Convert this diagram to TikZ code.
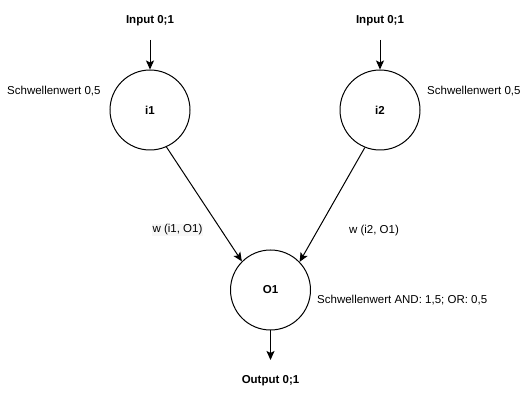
\documentclass[tikz,border=0pt]{standalone}
\usepackage{fontspec}
\setmainfont{Liberation Sans}
\usetikzlibrary{arrows.meta}
\begin{document}
\begin{tikzpicture}[x=1pt,y=-1pt,
  neuron/.style={draw,circle,line width=1pt,minimum size=80pt,inner sep=0pt,font=\fontsize{11.5}{13}\selectfont\bfseries},
  lbl/.style={inner sep=1pt,font=\fontsize{11.5}{13}\selectfont},
  blbl/.style={inner sep=1pt,font=\fontsize{11.5}{13}\selectfont\bfseries},
  wlbl/.style={lbl,fill=black!3},
  conn/.style={line width=1pt,-{Stealth[length=9pt,width=8pt,inset=2pt]}}]
\useasboundingbox (0,0) rectangle (531,401);
\node[neuron] (i1) at (150,110) {i1};
\node[neuron] (i2) at (380,110) {i2};
\node[neuron] (o1) at (270.5,290) {O1};
\node[blbl] (in1) at (150,21) {Input 0;1};
\node[blbl] (in2) at (380,21) {Input 0;1};
\node[blbl] (out) at (270.5,381) {Output 0;1};
\coordinate (a1) at (150,40);
\coordinate (a2) at (380,40);
\coordinate (a3) at (270.5,360);
\node[lbl,anchor=west] (s1) at (6,91) {Schwellenwert 0,5};
\node[lbl,anchor=west] (s2) at (426,91) {Schwellenwert 0,5};
\node[lbl,anchor=west] (s3) at (316,300) {Schwellenwert AND: 1,5; OR: 0,5};
\node[wlbl] (w1) at (177.5,230) {w (i1, O1)};
\node[lbl] (w2) at (374,231) {w (i2, O1)};
\draw[conn] (a1) -- (i1.north);
\draw[conn] (a2) -- (i2.north);
\draw[conn] (o1.south) -- (a3);
\draw[conn] (i1.-66) -- (o1.135);
\draw[conn] (i2.-112) -- (o1.44);
\end{tikzpicture}
\end{document}
